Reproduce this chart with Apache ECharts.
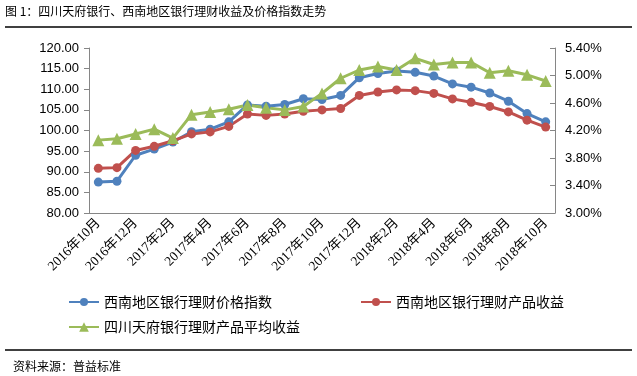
<!DOCTYPE html>
<html>
<head>
<meta charset="UTF-8">
<title>chart</title>
<script src="https://cdn.jsdelivr.net/npm/echarts@6/dist/echarts.min.js"></script>
</head>
<body style="margin:0">
<div id="main" style="width:637px;height:376px;"></div>
<script type="text/javascript">
// months, Oct 2016 .. Oct 2018
var months = ['2016年10月', '2016年11月', '2016年12月', '2017年1月', '2017年2月', '2017年3月',
	'2017年4月', '2017年5月', '2017年6月', '2017年7月', '2017年8月', '2017年9月', '2017年10月',
	'2017年11月', '2017年12月', '2018年1月', '2018年2月', '2018年3月', '2018年4月', '2018年5月',
	'2018年6月', '2018年7月', '2018年8月', '2018年9月', '2018年10月'];

// 西南地区银行理财价格指数 (left axis)
var priceIndex = [87.5, 87.7, 94.0, 95.5, 97.2, 99.7, 100.3, 102.1, 106.2, 105.9, 106.3, 107.7, 107.5,
	108.5, 112.8, 113.8, 114.4, 114.1, 113.2, 111.3, 110.5, 109.1, 107.1, 104.1, 102.1];
// 西南地区银行理财产品收益 (%, right axis)
var regionYield = [3.65, 3.66, 3.91, 3.97, 4.05, 4.15, 4.18, 4.26, 4.44, 4.42, 4.44, 4.48, 4.50,
	4.52, 4.71, 4.76, 4.79, 4.78, 4.74, 4.66, 4.61, 4.55, 4.47, 4.35, 4.25];
// 四川天府银行理财产品平均收益 (%, right axis)
var tianfuYield = [4.06, 4.08, 4.15, 4.22, 4.09, 4.43, 4.47, 4.51, 4.57, 4.53, 4.50, 4.55, 4.74,
	4.96, 5.08, 5.13, 5.08, 5.25, 5.16, 5.19, 5.19, 5.04, 5.07, 5.01, 4.92];

var seriesNames = ['西南地区银行理财价格指数', '西南地区银行理财产品收益', '四川天府银行理财产品平均收益'];
var rightTicks = [3.0, 3.4, 3.8, 4.2, 4.6, 5.0, 5.4];

var CJK = '"Noto Sans CJK SC"';
var AXIS_COLOR = '#868686';

var myChart = echarts.init(document.getElementById('main'));

var legendText = { fontSize: 14, color: '#000', fontFamily: CJK };

var option = {
	animation: false,
	backgroundColor: '#fff',
	grid: { left: 89, right: 82, top: 48, bottom: 163 },
	legend: [
		{ data: [seriesNames[0]], left: 63, top: 290, itemWidth: 30, itemHeight: 10, textStyle: legendText },
		{ data: [seriesNames[1]], left: 355, top: 290, itemWidth: 30, itemHeight: 10, textStyle: legendText },
		{ data: [seriesNames[2]], left: 63, top: 315, itemWidth: 30, itemHeight: 12, textStyle: legendText }
	],
	xAxis: {
		type: 'category',
		data: months,
		boundaryGap: true,
		axisLine: { lineStyle: { color: AXIS_COLOR } },
		axisTick: { interval: 1, length: 5, lineStyle: { color: AXIS_COLOR } },
		axisLabel: {
			interval: 1,
			rotate: 45,
			margin: 8,
			fontSize: 13.5,
			color: '#000',
			fontFamily: '"Liberation Serif", ' + CJK
		},
		splitLine: { show: false }
	},
	yAxis: [{
		type: 'value',
		min: 80,
		max: 120,
		interval: 5,
		axisLine: { show: true, lineStyle: { color: AXIS_COLOR } },
		axisTick: { show: true, length: 5, lineStyle: { color: AXIS_COLOR } },
		axisLabel: {
			margin: 10,
			fontSize: 13,
			color: '#000',
			fontFamily: '"Liberation Sans"',
			formatter: function (v) { return v.toFixed(2); }
		},
		splitLine: { show: false }
	}, {
		type: 'value',
		position: 'right',
		min: 3.0,
		max: 5.4,
		axisLine: { show: true, lineStyle: { color: AXIS_COLOR } },
		axisTick: { show: true, inside: true, length: 5, customValues: rightTicks, lineStyle: { color: AXIS_COLOR } },
		axisLabel: {
			customValues: rightTicks,
			margin: 10,
			fontSize: 13,
			color: '#000',
			fontFamily: '"Liberation Sans"',
			formatter: function (v) { return v.toFixed(2) + '%'; }
		},
		splitLine: { show: false }
	}],
	series: [{
		name: seriesNames[0],
		type: 'line',
		yAxisIndex: 0,
		data: priceIndex,
		symbol: 'circle',
		symbolSize: 9,
		color: '#4f81bd',
		lineStyle: { width: 3 }
	}, {
		name: seriesNames[1],
		type: 'line',
		yAxisIndex: 1,
		data: regionYield,
		symbol: 'circle',
		symbolSize: 9,
		color: '#c0504d',
		lineStyle: { width: 3 }
	}, {
		name: seriesNames[2],
		type: 'line',
		yAxisIndex: 1,
		data: tianfuYield,
		symbol: 'triangle',
		symbolSize: 12,
		color: '#9bbb59',
		lineStyle: { width: 3 }
	}],
	graphic: [
		{ type: 'text', left: 5, top: 5, style: { text: '图 1：四川天府银行、西南地区银行理财收益及价格指数走势', font: '12px ' + CJK, fill: '#000' } },
		{ type: 'line', shape: { x1: 5, y1: 27, x2: 632, y2: 27 }, style: { stroke: '#000', lineWidth: 1.5 } },
		{ type: 'line', shape: { x1: 5, y1: 350, x2: 632, y2: 350 }, style: { stroke: '#000', lineWidth: 1.5 } },
		{ type: 'text', left: 13, top: 360, style: { text: '资料来源：普益标准', font: '12px ' + CJK, fill: '#000' } }
	]
};

myChart.setOption(option);
</script>
</body>
</html>
